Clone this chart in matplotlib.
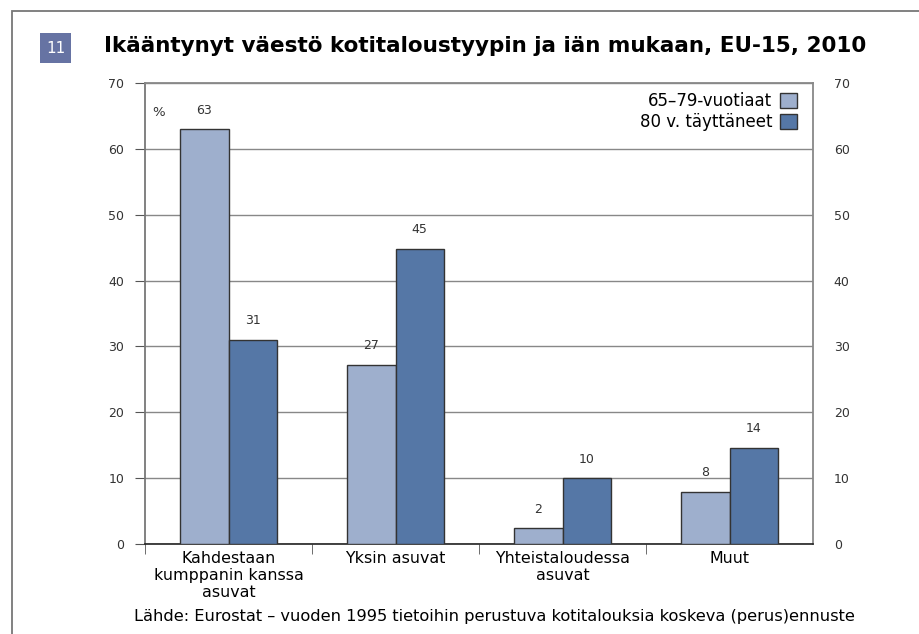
import numpy as np
import matplotlib
matplotlib.use('Agg')
import matplotlib.pyplot as plt
from matplotlib.patches import Rectangle

# data
categories = ['Kahdestaan\nkumppanin kanssa\nasuvat', 'Yksin asuvat',
              'Yhteistaloudessa\nasuvat', 'Muut']
ika_65_79 = [63.0, 27.2, 2.4, 7.9]
ika_80 = [31.0, 44.8, 10.0, 14.6]
labels_65_79 = ['63', '27', '2', '8']
labels_80 = ['31', '45', '10', '14']
series_names = ['65–79-vuotiaat', '80 v. täyttäneet']
yticks = [0, 10, 20, 30, 40, 50, 60, 70]

c_light = '#9eafcd'
c_dark = '#5577a6'
edge = '#333333'

plt.rcParams['font.family'] = ['DejaVu Sans']

fig = plt.figure(figsize=(9.19, 6.34), dpi=100)
W, H = 919, 634

# outer frame
fig.patches.append(Rectangle((12 / W, -0.05), 1.0, (H - 10.7) / H + 0.05,
                             transform=fig.transFigure, fill=False,
                             edgecolor='#777777', linewidth=1.3))

# number box
fig.patches.append(Rectangle((40 / W, 1 - 63 / H), 31 / W, 30 / H,
                             transform=fig.transFigure, facecolor='#6673a3',
                             edgecolor='none'))
fig.text(55.5 / W, 1 - 48.5 / H, '11', color='white', fontsize=11,
         ha='center', va='center')

fig.text(104 / W, 1 - 45.5 / H,
         'Ikääntynyt väestö kotitaloustyypin ja iän mukaan, EU-15, 2010',
         fontsize=15.5, fontweight='bold', ha='left', va='center')

ax = fig.add_axes([145 / W, 1 - 544 / H, (813 - 145) / W, (544 - 83) / H])
x = np.arange(len(categories))
bw = 0.29
b1 = ax.bar(x - bw / 2, ika_65_79, bw, color=c_light, edgecolor=edge,
            linewidth=1.0, zorder=3, label=series_names[0])
b2 = ax.bar(x + bw / 2, ika_80, bw, color=c_dark, edgecolor=edge,
            linewidth=1.0, zorder=3, label=series_names[1])

for rect, lab in zip(b1, labels_65_79):
    ax.text(rect.get_x() + rect.get_width() / 2, rect.get_height() + 2.9, lab,
            ha='center', va='center', fontsize=9, color='#333333')
for rect, lab in zip(b2, labels_80):
    ax.text(rect.get_x() + rect.get_width() / 2, rect.get_height() + 2.9, lab,
            ha='center', va='center', fontsize=9, color='#333333')

ax.set_xlim(-0.5, 3.5)
ax.set_ylim(0, 70)
ax.set_yticks(yticks)
ax.yaxis.grid(True, color='#888888', linewidth=1.0, zorder=0)
ax.tick_params(axis='y', labelsize=9, length=7, color='#555555',
               labelcolor='#333333', right=False, labelright=True, pad=8)
ax.set_xticks(x)
ax.set_xticklabels(categories, fontsize=11.4, linespacing=1.15)
ax.tick_params(axis='x', length=0, pad=5)
ax.set_xticks(np.arange(len(categories)) - 0.5, minor=True)
ax.tick_params(axis='x', which='minor', length=7, color='#555555')

for s in ['left', 'right', 'top']:
    ax.spines[s].set_color('#888888')
    ax.spines[s].set_linewidth(1.3)
ax.spines['bottom'].set_color('#222222')
ax.spines['bottom'].set_linewidth(1.2)
ax.spines['left'].set_color('#777777')

ax.text(0.011, 0.935, '%', transform=ax.transAxes, fontsize=9.5,
        ha='left', va='center', color='#333333')

leg = ax.legend(loc='upper right', frameon=False, fontsize=12,
                markerfirst=False, handlelength=1.0, handleheight=1.0,
                handletextpad=0.45, borderaxespad=0.3, labelspacing=0.15,
                bbox_to_anchor=(0.993, 1.005))
for t in leg.get_texts():
    t.set_ha('right')

fig.text(494 / W, 1 - 617 / H,
         'Lähde: Eurostat – vuoden 1995 tietoihin perustuva kotitalouksia koskeva (perus)ennuste',
         fontsize=11.7, ha='center', va='center')

fig.savefig('out.png', dpi=100)
